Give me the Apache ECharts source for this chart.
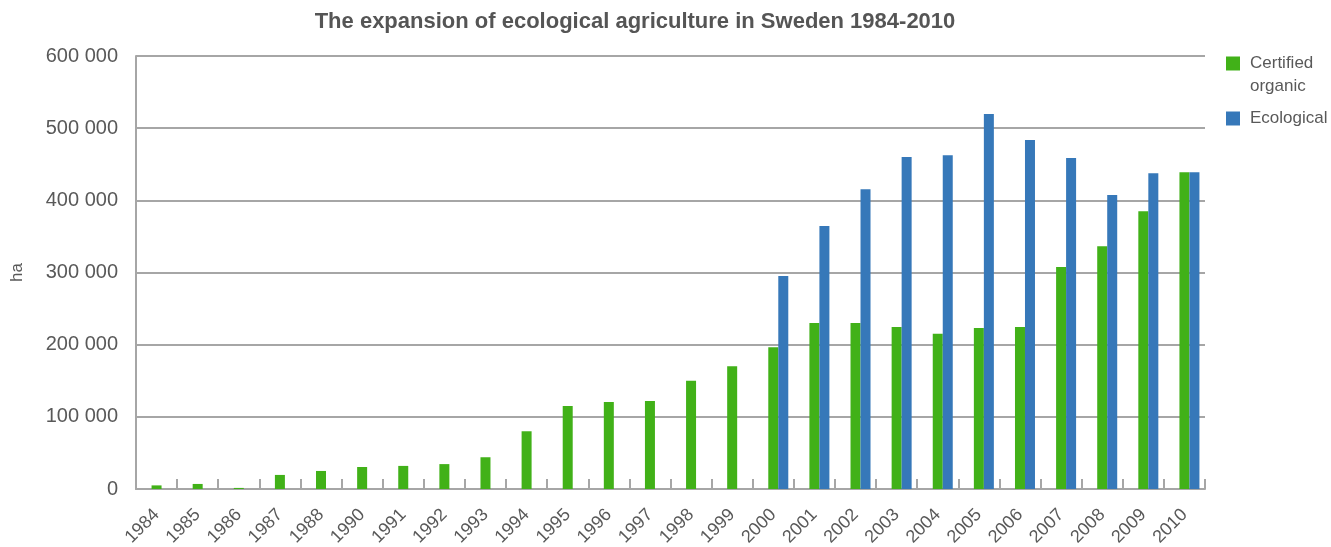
<!DOCTYPE html>
<html>
<head>
<meta charset="utf-8">
<script src="https://cdn.jsdelivr.net/npm/echarts@6/dist/echarts.min.js"></script>
<style>
  html, body { margin: 0; padding: 0; background: #fff; }
  #main { width: 1331px; height: 547px; }
</style>
</head>
<body>
<div id="main"></div>
<script>
var years = ["1984", "1985", "1986", "1987", "1988", "1990", "1991", "1992", "1993", "1994", "1995", "1996", "1997", "1998", "1999", "2000", "2001", "2002", "2003", "2004", "2005", "2006", "2007", "2008", "2009", "2010"];
var certified = [5000, 7000, 1500, 19500, 25000, 30500, 32000, 34500, 44000, 80000, 115000, 120500, 122000, 150000, 170000, 196500, 230000, 230000, 224500, 215000, 223000, 224500, 307500, 336500, 385000, 439000];
var ecological = [null, null, null, null, null, null, null, null, null, null, null, null, null, null, null, 295000, 364500, 415500, 460000, 462500, 519500, 483500, 458500, 407500, 437500, 439000];
var yTicks = [0, 100000, 200000, 300000, 400000, 500000, 600000];

var chart = echarts.init(document.getElementById("main"));
var textColor = "#595959";
var lineColor = "#a6a6a6";
var font = "Liberation Sans, Arial, sans-serif";

function fmt(v) {
    return String(v).replace(/\B(?=(\d{3})+(?!\d))/g, " ");
}

var option = {
    animation: false,
    title: {
        text: "The expansion of ecological agriculture in Sweden 1984-2010",
        left: 630,
        textAlign: "center",
        top: 6,
        textStyle: { fontFamily: font, fontSize: 22, fontWeight: "bold", color: "#555" }
    },
    legend: [{
        data: ["Certified organic"],
        orient: "vertical",
        left: 1221,
        top: 24,
        itemWidth: 14,
        itemHeight: 14,
        icon: "rect",
        // blank first line keeps the square level with "Certified"
        formatter: function (n) { return " \n" + n.replace(" ", "\n"); },
        textStyle: { fontFamily: font, fontSize: 17, color: textColor, lineHeight: 23, padding: [0, 0, 0, 5] }
    }, {
        data: ["Ecological"],
        orient: "vertical",
        left: 1221,
        top: 105,
        itemWidth: 14,
        itemHeight: 14,
        icon: "rect",
        textStyle: { fontFamily: font, fontSize: 17, color: textColor, padding: [0, 0, 0, 5] }
    }],
    grid: { left: 136, right: 126, top: 56, bottom: 58, outerBoundsMode: "none" },
    xAxis: {
        type: "category",
        data: years,
        axisLine: { lineStyle: { color: lineColor, width: 2 } },
        axisTick: { show: true, inside: true, length: 10, lineStyle: { color: lineColor, width: 2 } },
        axisLabel: { rotate: 45, margin: 23, fontFamily: font, fontSize: 18, color: textColor, interval: 0 }
    },
    yAxis: {
        type: "value",
        min: 0,
        max: 600000,
        interval: 100000,
        name: "ha",
        nameLocation: "middle",
        nameGap: 110,
        nameTextStyle: { fontFamily: font, fontSize: 17, color: textColor },
        axisLine: { show: true, lineStyle: { color: lineColor, width: 2 } },
        axisTick: { show: false },
        splitLine: { lineStyle: { color: lineColor, width: 2 } },
        axisLabel: {
            margin: 18, fontFamily: font, fontSize: 20, color: textColor,
            formatter: function (v) { return yTicks.indexOf(v) >= 0 ? fmt(v) : ""; }
        }
    },
    series: [{
        // empty slot: the source keeps room for a third bar left of the green one
        name: "spacer",
        type: "bar",
        barWidth: 10,
        barGap: "0%",
        data: []
    }, {
        name: "Certified organic",
        type: "bar",
        barWidth: 10,
        barGap: "0%",
        itemStyle: { color: "#41b118" },
        data: certified
    }, {
        name: "Ecological",
        type: "bar",
        barWidth: 10,
        barGap: "0%",
        itemStyle: { color: "#3678b9" },
        data: ecological
    }]
};
chart.setOption(option);
</script>
</body>
</html>
